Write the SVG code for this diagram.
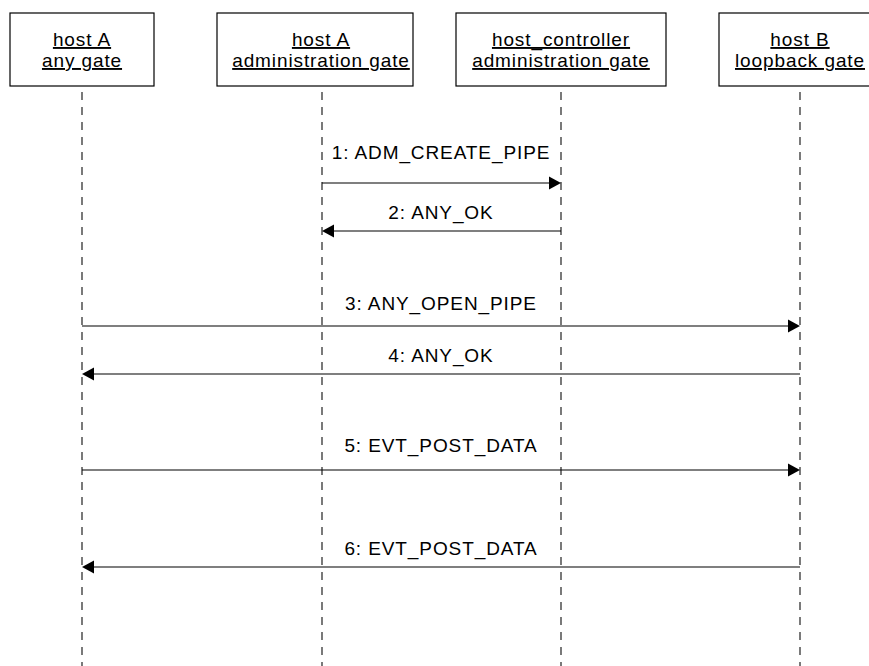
<svg xmlns="http://www.w3.org/2000/svg" width="869" height="666" viewBox="0 0 869 666">
<style>
.box{fill:#fff;stroke:#000;stroke-width:1.2}
.t{font-family:"Liberation Sans",Arial,sans-serif;font-size:19px;letter-spacing:0.9px;text-anchor:middle;fill:#000}
.u{text-decoration:underline}
.life{stroke:#333;stroke-width:1.3;stroke-dasharray:8 7;fill:none}
.msg{stroke:#000;stroke-width:1.2;fill:none}
.head{fill:#000}
</style>
<rect width="869" height="666" fill="#fff"/>
<g id="lifelines">
<line class="life" x1="82" y1="92" x2="82" y2="666"/>
<line class="life" x1="322" y1="92" x2="322" y2="666"/>
<line class="life" x1="561" y1="92" x2="561" y2="666"/>
<line class="life" x1="800" y1="92" x2="800" y2="666"/>
</g>
<g id="node-hostA-any">
<rect class="box" x="10" y="13" width="144" height="73"/>
<text class="t u" x="82" y="46">host A</text>
<text class="t u" x="82" y="67">any gate</text>
</g>
<g id="node-hostA-admin">
<rect class="box" x="217" y="13" width="196" height="73"/>
<text class="t u" x="321" y="46">host A</text>
<text class="t u" x="321" y="67">administration gate</text>
</g>
<g id="node-hc-admin">
<rect class="box" x="456" y="13" width="210" height="73"/>
<text class="t u" x="561" y="46">host_controller</text>
<text class="t u" x="561" y="67">administration gate</text>
</g>
<g id="node-hostB-loopback">
<rect class="box" x="719" y="13" width="162" height="73"/>
<text class="t u" x="800" y="46">host B</text>
<text class="t u" x="800" y="67">loopback gate</text>
</g>
<g id="connectors">
<line class="msg" x1="322" y1="183" x2="552" y2="183"/>
<path class="head" d="M561,183 L549,176.5 L549,189.5 Z"/>
<text class="t" x="441" y="159">1: ADM_CREATE_PIPE</text>
<line class="msg" x1="561" y1="231" x2="331" y2="231"/>
<path class="head" d="M322,231 L334,224.5 L334,237.5 Z"/>
<text class="t" x="441" y="219">2: ANY_OK</text>
<line class="msg" x1="82" y1="326" x2="791" y2="326"/>
<path class="head" d="M800,326 L788,319.5 L788,332.5 Z"/>
<text class="t" x="441" y="310">3: ANY_OPEN_PIPE</text>
<line class="msg" x1="800" y1="374" x2="91" y2="374"/>
<path class="head" d="M82,374 L94,367.5 L94,380.5 Z"/>
<text class="t" x="441" y="362">4: ANY_OK</text>
<line class="msg" x1="82" y1="470" x2="791" y2="470"/>
<path class="head" d="M800,470 L788,463.5 L788,476.5 Z"/>
<text class="t" x="441" y="452">5: EVT_POST_DATA</text>
<line class="msg" x1="800" y1="567" x2="91" y2="567"/>
<path class="head" d="M82,567 L94,560.5 L94,573.5 Z"/>
<text class="t" x="441" y="555">6: EVT_POST_DATA</text>
</g>
</svg>
